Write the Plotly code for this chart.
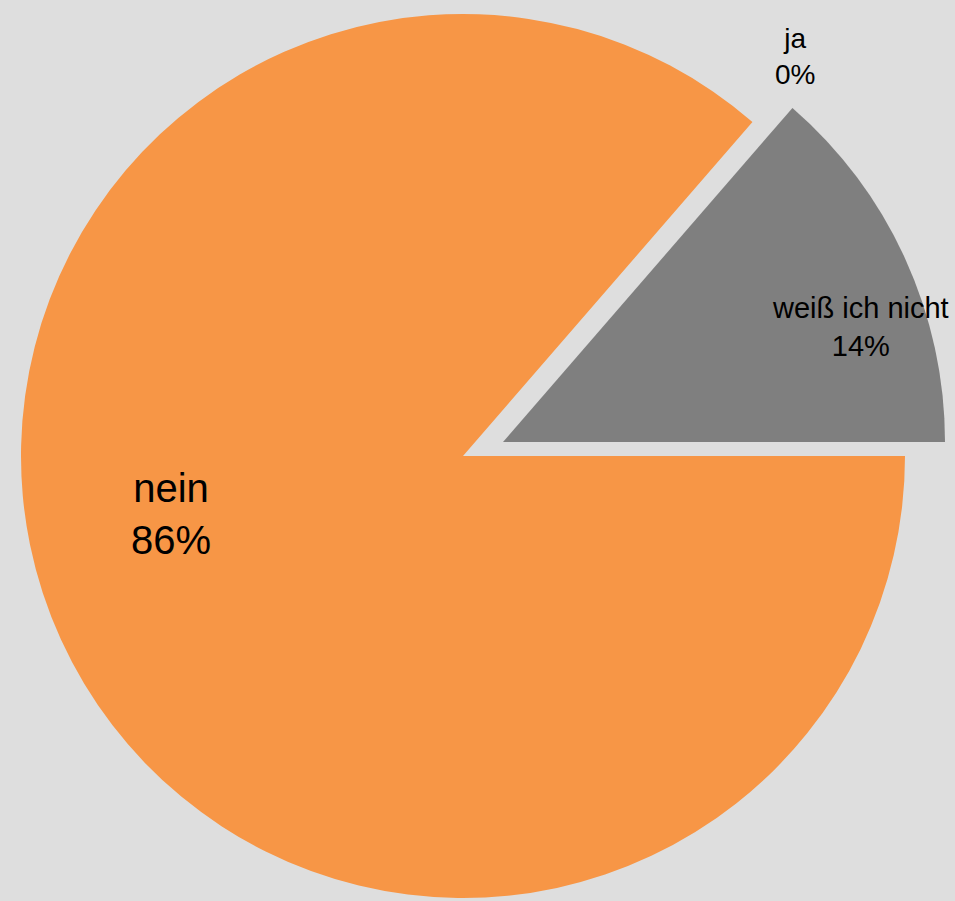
import plotly.graph_objects as go

# survey answers (counts), order = clockwise starting at the pulled-out slice
labels = ["weiß ich nicht", "nein", "ja"]
counts = [3, 19, 0]
colours = ["#7F7F7F", "#F79646", "#7F7F7F"]

W, H = 955, 901
BG = "#DEDEDE"
CLEAR = "rgba(0,0,0,0)"


def px_domain(cx, cy, r):
    # square domain (paper fractions) for a pie of radius r centred at pixel (cx, cy)
    return dict(x=[(cx - r) / W, (cx + r) / W],
                y=[1 - (cy + r) / H, 1 - (cy - r) / H])


def make_pie(slice_colours, domain):
    return go.Pie(labels=labels, values=counts,
                  sort=False, direction="clockwise",
                  rotation=90 - 360 * counts[0] / sum(counts),
                  marker=dict(colors=slice_colours, line=dict(width=0)),
                  textinfo="none", hoverinfo="label+percent",
                  domain=domain, showlegend=False)


# main pie (orange part) and the pulled-out grey slice drawn as a second, shifted pie
main_colours = [CLEAR if i == 0 else c for i, c in enumerate(colours)]
pulled_colours = [colours[0] if i == 0 else CLEAR for i in range(len(colours))]

fig = go.Figure()
fig.add_trace(make_pie(main_colours, px_domain(463, 456, 442)))
fig.add_trace(make_pie(pulled_colours, px_domain(503, 442, 442)))

total = sum(counts)
percents = [round(100 * v / total) for v in counts]

# label positions (paper fractions) and font sizes
label_pos = {"weiß ich nicht": (860 / W, 1 - 327 / H, 29),
             "nein": (171 / W, 1 - 514 / H, 40),
             "ja": (795 / W, 1 - 57 / H, 28)}

for lab, pct in zip(labels, percents):
    x, y, size = label_pos[lab]
    fig.add_annotation(x=x, y=y, xref="paper", yref="paper",
                       text="{}<br>{}%".format(lab, pct), showarrow=False,
                       xanchor="center", yanchor="middle", align="center",
                       font=dict(family="Arial, Liberation Sans, sans-serif",
                                 size=size, color="#000000"))

fig.update_layout(width=W, height=H, margin=dict(l=0, r=0, t=0, b=0),
                  paper_bgcolor=BG, plot_bgcolor=BG)

# drop the default page margin so the figure fills the window
fig.write_html("out.html", config={"displayModeBar": False},
               post_script="document.body.style.margin='0';"
                           "document.body.style.overflow='hidden';"
                           "document.body.style.background='{}';".format(BG))
